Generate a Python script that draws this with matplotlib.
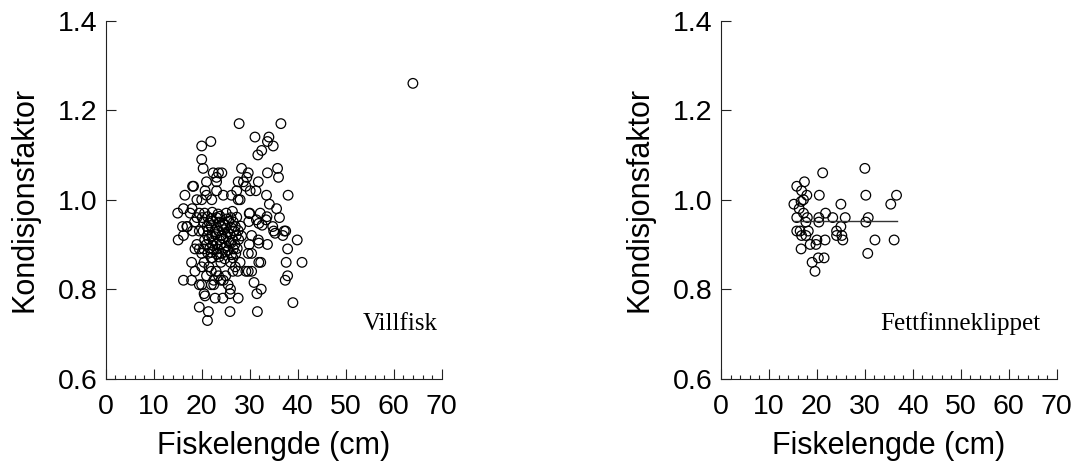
import matplotlib.pyplot as plt
from matplotlib.ticker import MultipleLocator

# Villfisk: fish length (cm) and condition factor
villfisk_lengde = [
    64.0,
    27.8, 36.5, 21.9, 20.0, 31.1, 34.0, 33.7, 34.9, 32.5, 31.7, 20.0,
    20.3, 28.3, 35.8, 36.0, 33.7, 22.4, 23.5, 24.2, 23.1,
    29.7, 29.4, 28.7, 29.2, 27.6, 21.0, 23.1, 31.8, 18.1, 18.3,
    20.7, 23.1, 27.3, 30.1, 31.3, 16.5, 24.5, 26.2, 27.6, 28.0, 33.5, 34.1, 38.0,
    19.0, 22.1, 20.0, 21.0, 35.6,
    15.0, 16.2, 17.6, 18.0, 19.5, 16.0, 17.0, 18.1, 15.1, 16.2, 16.9,
    36.2, 34.8, 33.4, 31.9, 32.2, 32.6, 33.6, 29.8, 31.4,
    35.0, 35.3, 37.2, 37.5, 36.9, 39.9, 31.8, 30.4, 29.9, 33.7, 31.9, 30.0, 29.9,
    18.6, 37.9, 29.7, 30.4, 17.9, 32.3, 37.6, 40.9, 31.9,
    18.6, 29.7, 30.4, 29.2, 16.2, 17.9, 37.4, 37.9, 19.5, 30.9, 20.0,
    31.5, 32.4, 20.5, 22.0, 22.5, 20.7, 22.8, 24.4, 27.6, 25.9,
    19.5, 21.4, 21.2, 25.9, 31.6, 39.0,
    20.0, 20.5, 21.0, 21.5, 22.0, 22.5, 23.0, 23.5, 24.0, 24.5, 25.0, 25.5, 26.0,
    26.5, 27.0, 27.5, 28.0, 26.0, 24.0, 22.0, 20.0, 19.5, 19.0, 19.0, 19.5, 18.5,
    20.6, 22.2, 23.4, 25.1, 26.4,
    20.1, 21.2, 22.0, 23.1, 23.8, 25.2, 26.1, 27.3,
    20.4, 21.6, 22.3, 23.6, 24.4, 25.7, 26.6,
    21.1, 21.9, 23.2, 24.1, 24.8, 26.2, 27.0, 28.1,
    20.3, 21.4, 22.7, 23.5, 24.6, 25.4, 26.8, 27.6,
    21.2, 22.1, 22.9, 24.2, 25.1, 25.9, 27.2, 28.3,
    20.6, 21.5, 22.4, 23.7, 24.5, 25.6, 26.4, 27.7,
    21.0, 22.3, 23.1, 23.9, 25.2, 26.1, 26.9,
    20.4, 21.7, 22.5, 23.3, 24.7, 25.5, 26.6, 27.4,
    21.3, 22.0, 23.2, 24.1, 24.9, 26.2, 27.1,
    22.1, 23.6, 24.8, 26.5,
]
villfisk_kf = [
    1.26,
    1.17, 1.17, 1.13, 1.12, 1.14, 1.14, 1.13, 1.12, 1.11, 1.10, 1.09,
    1.07, 1.07, 1.07, 1.05, 1.06, 1.06, 1.06, 1.06, 1.05,
    1.06, 1.05, 1.04, 1.03, 1.04, 1.04, 1.04, 1.04, 1.03, 1.03,
    1.02, 1.02, 1.02, 1.02, 1.02, 1.01, 1.01, 1.01, 1.00, 1.00, 1.01, 0.99, 1.01,
    1.00, 1.00, 1.00, 1.01, 0.98,
    0.97, 0.98, 0.97, 0.98, 0.97, 0.94, 0.94, 0.93, 0.91, 0.92, 0.94,
    0.96, 0.94, 0.955, 0.947, 0.97, 0.943, 0.962, 0.951, 0.955,
    0.93, 0.925, 0.93, 0.93, 0.92, 0.91, 0.91, 0.92, 0.90, 0.90, 0.903, 0.97, 0.969,
    0.89, 0.89, 0.88, 0.88, 0.86, 0.86, 0.86, 0.86, 0.86,
    0.84, 0.84, 0.84, 0.84, 0.82, 0.82, 0.82, 0.83, 0.81, 0.815, 0.81,
    0.79, 0.80, 0.79, 0.81, 0.81, 0.785, 0.78, 0.78, 0.78, 0.79,
    0.76, 0.75, 0.73, 0.75, 0.75, 0.77,
    0.85, 0.86, 0.83, 0.85, 0.84, 0.82, 0.84, 0.83, 0.82, 0.82, 0.83, 0.81, 0.80,
    0.84, 0.85, 0.84, 0.86, 0.86, 0.86, 0.87, 0.88, 0.89, 0.90, 0.96, 0.93, 0.95,
    0.97, 0.972, 0.968, 0.97, 0.974,
    0.96, 0.962, 0.958, 0.96, 0.963, 0.957, 0.96, 0.961,
    0.95, 0.948, 0.953, 0.95, 0.947, 0.952, 0.95,
    0.94, 0.942, 0.938, 0.94, 0.943, 0.937, 0.94, 0.941,
    0.93, 0.932, 0.928, 0.93, 0.933, 0.927, 0.93, 0.931,
    0.92, 0.918, 0.922, 0.92, 0.917, 0.923, 0.92, 0.919,
    0.91, 0.912, 0.908, 0.91, 0.913, 0.907, 0.91, 0.911,
    0.90, 0.898, 0.902, 0.90, 0.897, 0.903, 0.90,
    0.89, 0.892, 0.888, 0.89, 0.893, 0.887, 0.89, 0.891,
    0.88, 0.882, 0.878, 0.88, 0.883, 0.877, 0.88,
    0.87, 0.872, 0.868, 0.87,
]

# Fettfinneklippet (adipose fin clipped)
klippet_lengde = [
    15.2, 15.8, 17.4, 16.8, 17.9, 17.2, 16.7, 16.3, 17.2, 15.8, 18.0, 17.7,
    15.8, 16.5, 18.2, 16.8, 17.7, 16.7, 18.6, 20.0, 19.8, 21.7, 20.3, 21.5,
    19.0, 19.6, 20.5, 21.2, 20.4, 20.4, 21.8, 23.3, 25.0, 25.9, 24.1, 25.0,
    25.2, 25.4, 24.1, 30.0, 30.2, 30.7, 30.2, 30.6, 32.1, 35.4, 36.6, 36.1,
]
klippet_kf = [
    0.99, 1.03, 1.04, 1.02, 1.01, 1.00, 0.996, 0.98, 0.97, 0.96, 0.96, 0.95,
    0.93, 0.93, 0.93, 0.92, 0.92, 0.89, 0.90, 0.91, 0.90, 0.91, 0.87, 0.87,
    0.86, 0.84, 1.01, 1.06, 0.96, 0.95, 0.97, 0.96, 0.99, 0.96, 0.93, 0.94,
    0.92, 0.91, 0.92, 1.07, 1.01, 0.96, 0.95, 0.88, 0.91, 0.99, 1.01, 0.91,
]
# fitted line (flat) over the clipped fish
klippet_fit_x = [15.2, 36.8]
klippet_fit_y = [0.953, 0.953]

x_ticks = [0, 10, 20, 30, 40, 50, 60, 70]
y_ticks = [0.6, 0.8, 1.0, 1.2, 1.4]

SANS = "Liberation Sans"
SERIF = "Liberation Serif"


def _style_axes(ax):
    ax.set_xlim(0, 70)
    ax.set_ylim(0.6, 1.4)
    ax.spines["top"].set_visible(False)
    ax.spines["right"].set_visible(False)
    for side in ("left", "bottom"):
        ax.spines[side].set_linewidth(0.8)
        ax.spines[side].set_color("#222222")
    ax.set_xticks(x_ticks)
    ax.set_yticks(y_ticks)
    ax.set_yticklabels([f"{v:.1f}" for v in y_ticks])
    ax.xaxis.set_minor_locator(MultipleLocator(2))
    ax.tick_params(axis="both", which="major", direction="in", length=7,
                   width=0.8, color="#222222", labelsize=20.5)
    ax.tick_params(axis="x", which="major", pad=11)
    ax.tick_params(axis="y", which="major", pad=6)
    ax.tick_params(axis="x", which="minor", direction="in", length=3,
                   width=0.8, color="#222222")
    ax.tick_params(axis="y", which="minor", left=False)
    for lbl in ax.get_xticklabels() + ax.get_yticklabels():
        lbl.set_fontfamily(SANS)
    ax.set_xlabel("Fiskelengde (cm)", fontsize=22, family=SANS, labelpad=8)
    ax.set_ylabel("Kondisjonsfaktor", fontsize=22, family=SANS, labelpad=13)


fig = plt.figure(figsize=(10.76, 4.63), dpi=100)
ax1 = fig.add_axes([105.7 / 1076, 84.3 / 463, 336 / 1076, 358 / 463])
ax2 = fig.add_axes([721 / 1076, 84.3 / 463, 335.7 / 1076, 358 / 463])

ax1.scatter(villfisk_lengde, villfisk_kf, s=48, facecolors="none",
            edgecolors="black", linewidths=0.9, clip_on=False)
ax2.scatter(klippet_lengde, klippet_kf, s=48, facecolors="none",
            edgecolors="black", linewidths=0.9, clip_on=False)
ax2.plot(klippet_fit_x, klippet_fit_y, color="#333333", linewidth=1.0)

for ax in (ax1, ax2):
    _style_axes(ax)

ax1.text(53.6, 0.709, "Villfisk", fontsize=18, family=SERIF)
ax2.text(33.3, 0.709, "Fettfinneklippet", fontsize=18, family=SERIF)

fig.savefig("out.png", dpi=100)
